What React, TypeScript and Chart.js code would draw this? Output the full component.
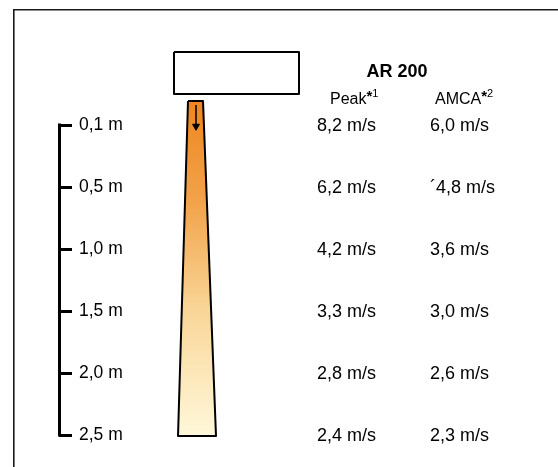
import { useEffect, useRef } from 'react';
import { Chart, registerables } from 'chart.js';

Chart.register(...registerables);

// ---- data ----
const distanceLabels = ['0,1 m', '0,5 m', '1,0 m', '1,5 m', '2,0 m', '2,5 m'];
const peakValues = [8.2, 6.2, 4.2, 3.3, 2.8, 2.4];
const amcaValues = [6.0, 4.8, 3.6, 3.0, 2.6, 2.3];
const amcaPrefixes = ['', '´', '', '', '', ''];
const modelName = 'AR 200';
const columnHeaders = ['Peak', 'AMCA'];
const columnNotes = ['1', '2'];
const unit = 'm/s';

// ---- layout (scale units: x ~ page px, y ~ row index) ----
const FONT = "'Liberation Sans', Arial, Helvetica, sans-serif";
const Y_MIN = -125 / 62;
const Y_MAX = 5 + 32 / 62;
const LAST_ROW = distanceLabels.length - 1;
const BAR_X = 59.5;
const CONE = { topY: -0.387, botY: LAST_ROW + 0.018, topL: 188, topR: 203, botL: 178, botR: 216 };
const BOX = { top: -1.177, bottom: -0.5, left: 174, right: 299 };
const ARROW = { x: 196, from: -0.323, to: 0.02 };
const TITLE = { x: 397, y: -0.86 };
const HEADER_Y = -0.41;
const HEADER_X = [330, 435];
const COL_X = [317, 430];

const fmt = (v: number) => v.toFixed(1).replace('.', ',') + ' ' + unit;

const framePlugin = {
  id: 'frame',
  beforeDraw(chart: any) {
    const { ctx, width, height } = chart;
    ctx.save();
    ctx.fillStyle = '#fff';
    ctx.fillRect(0, 0, width, height);
    ctx.strokeStyle = '#1a1a1a';
    ctx.lineWidth = 1.6;
    ctx.beginPath();
    ctx.moveTo(13.8, height);
    ctx.lineTo(13.8, 9.8);
    ctx.lineTo(width, 9.8);
    ctx.stroke();
    ctx.restore();
  },
};

const textPlugin = {
  id: 'texts',
  afterDatasetsDraw(chart: any) {
    const { ctx } = chart;
    const x = chart.scales.x;
    const y = chart.scales.y;
    ctx.save();
    ctx.fillStyle = '#000';
    ctx.textBaseline = 'middle';

    ctx.font = `bold 18px ${FONT}`;
    ctx.textAlign = 'center';
    ctx.fillText(modelName, x.getPixelForValue(TITLE.x), y.getPixelForValue(TITLE.y));

    ctx.textAlign = 'left';
    columnHeaders.forEach((h, i) => {
      const hx = x.getPixelForValue(HEADER_X[i]);
      const hy = y.getPixelForValue(HEADER_Y);
      ctx.font = `16px ${FONT}`;
      ctx.fillText(h, hx, hy);
      let w = ctx.measureText(h).width;
      ctx.font = `bold 15px ${FONT}`;
      ctx.fillText('*', hx + w, hy - 3);
      w += ctx.measureText('*').width;
      ctx.font = `11px ${FONT}`;
      ctx.fillText(columnNotes[i], hx + w, hy - 6);
    });

    ctx.font = `18px ${FONT}`;
    peakValues.forEach((v, i) => {
      ctx.fillText(fmt(v), x.getPixelForValue(COL_X[0]), y.getPixelForValue(i) + 1);
    });
    amcaValues.forEach((v, i) => {
      ctx.fillText(amcaPrefixes[i] + fmt(v), x.getPixelForValue(COL_X[1]), y.getPixelForValue(i) + 1);
    });
    ctx.restore();
  },
};

export default function App() {
  const ref = useRef<HTMLCanvasElement>(null);

  useEffect(() => {
    if (!ref.current) return;
    Chart.defaults.font.family = FONT;

    const coneGradient = (c: any) => {
      const chart = c.chart;
      const y = chart.scales?.y;
      if (!y) return '#F5B060';
      const y0 = y.getPixelForValue(CONE.topY);
      const y1 = y.getPixelForValue(CONE.botY);
      if (!Number.isFinite(y0) || !Number.isFinite(y1) || y1 <= y0) return '#F5B060';
      const g = chart.ctx.createLinearGradient(0, y0, 0, y1);
      g.addColorStop(0, '#EE8620');
      g.addColorStop(0.3, '#F2A34A');
      g.addColorStop(0.62, '#F9D597');
      g.addColorStop(1, '#FFF8DA');
      return g;
    };

    const chart = new Chart(ref.current, {
      type: 'line',
      data: {
        datasets: [
          {
            // arrow
            data: [
              { x: ARROW.x, y: ARROW.from },
              { x: ARROW.x, y: ARROW.to },
            ],
            borderColor: '#000',
            borderWidth: 1.5,
            pointStyle: 'triangle',
            rotation: 180,
            pointRadius: (c: any) => (c.dataIndex === 1 ? 4 : 0),
            pointBackgroundColor: '#000',
            pointBorderColor: '#000',
            pointBorderWidth: 1,
            fill: false,
            clip: false,
          },
          {
            // scale bar
            data: [
              { x: BAR_X, y: 0 },
              { x: BAR_X, y: LAST_ROW },
            ],
            borderColor: '#000',
            borderWidth: 3,
            borderCapStyle: 'square',
            pointRadius: 0,
            fill: false,
            clip: false,
          },
          {
            // air jet cone
            data: [
              { x: CONE.topL, y: CONE.topY },
              { x: CONE.topR, y: CONE.topY },
              { x: CONE.botR, y: CONE.botY },
              { x: CONE.botL, y: CONE.botY },
              { x: CONE.topL, y: CONE.topY },
            ],
            borderColor: '#000',
            borderWidth: 2,
            borderJoinStyle: 'round',
            backgroundColor: coneGradient,
            fill: 'shape',
            pointRadius: 0,
            tension: 0,
            clip: false,
          },
          {
            // unit box
            data: [
              { x: BOX.left, y: BOX.top },
              { x: BOX.right, y: BOX.top },
              { x: BOX.right, y: BOX.bottom },
              { x: BOX.left, y: BOX.bottom },
              { x: BOX.left, y: BOX.top },
            ],
            borderColor: '#000',
            borderWidth: 2,
            borderJoinStyle: 'round',
            backgroundColor: '#fff',
            fill: 'shape',
            pointRadius: 0,
            tension: 0,
            clip: false,
          },
        ],
      },
      options: {
        responsive: false,
        animation: false,
        devicePixelRatio: 1,
        events: [],
        layout: { autoPadding: false, padding: { left: 59, top: 0, right: 0, bottom: 0 } },
        plugins: {
          legend: { display: false },
          tooltip: { enabled: false },
          title: { display: false },
        },
        scales: {
          x: { type: 'linear', display: false, min: 59, max: 558 },
          y: {
            type: 'linear',
            reverse: true,
            min: Y_MIN,
            max: Y_MAX,
            position: 'left',
            afterBuildTicks: (s: any) => {
              s.ticks = distanceLabels.map((_, i) => ({ value: i }));
            },
            afterFit: (s: any) => {
              s.width = 0;
              s.paddingTop = 0;
              s.paddingBottom = 0;
            },
            border: { display: false },
            grid: {
              display: true,
              drawOnChartArea: false,
              drawTicks: true,
              tickLength: -13,
              lineWidth: 3,
              color: '#000',
            },
            ticks: {
              mirror: true,
              padding: 20,
              color: '#000',
              autoSkip: false,
              maxRotation: 0,
              font: { size: 17.5, family: FONT },
              callback: (v: any) => distanceLabels[v] ?? '',
            },
          },
        },
      },
      plugins: [framePlugin, textPlugin],
    } as any);

    return () => chart.destroy();
  }, []);

  return (
    <div style={{ position: 'absolute', left: 0, top: 0, width: 558, height: 467, background: '#fff' }}>
      <canvas ref={ref} width={558} height={467} />
    </div>
  );
}
